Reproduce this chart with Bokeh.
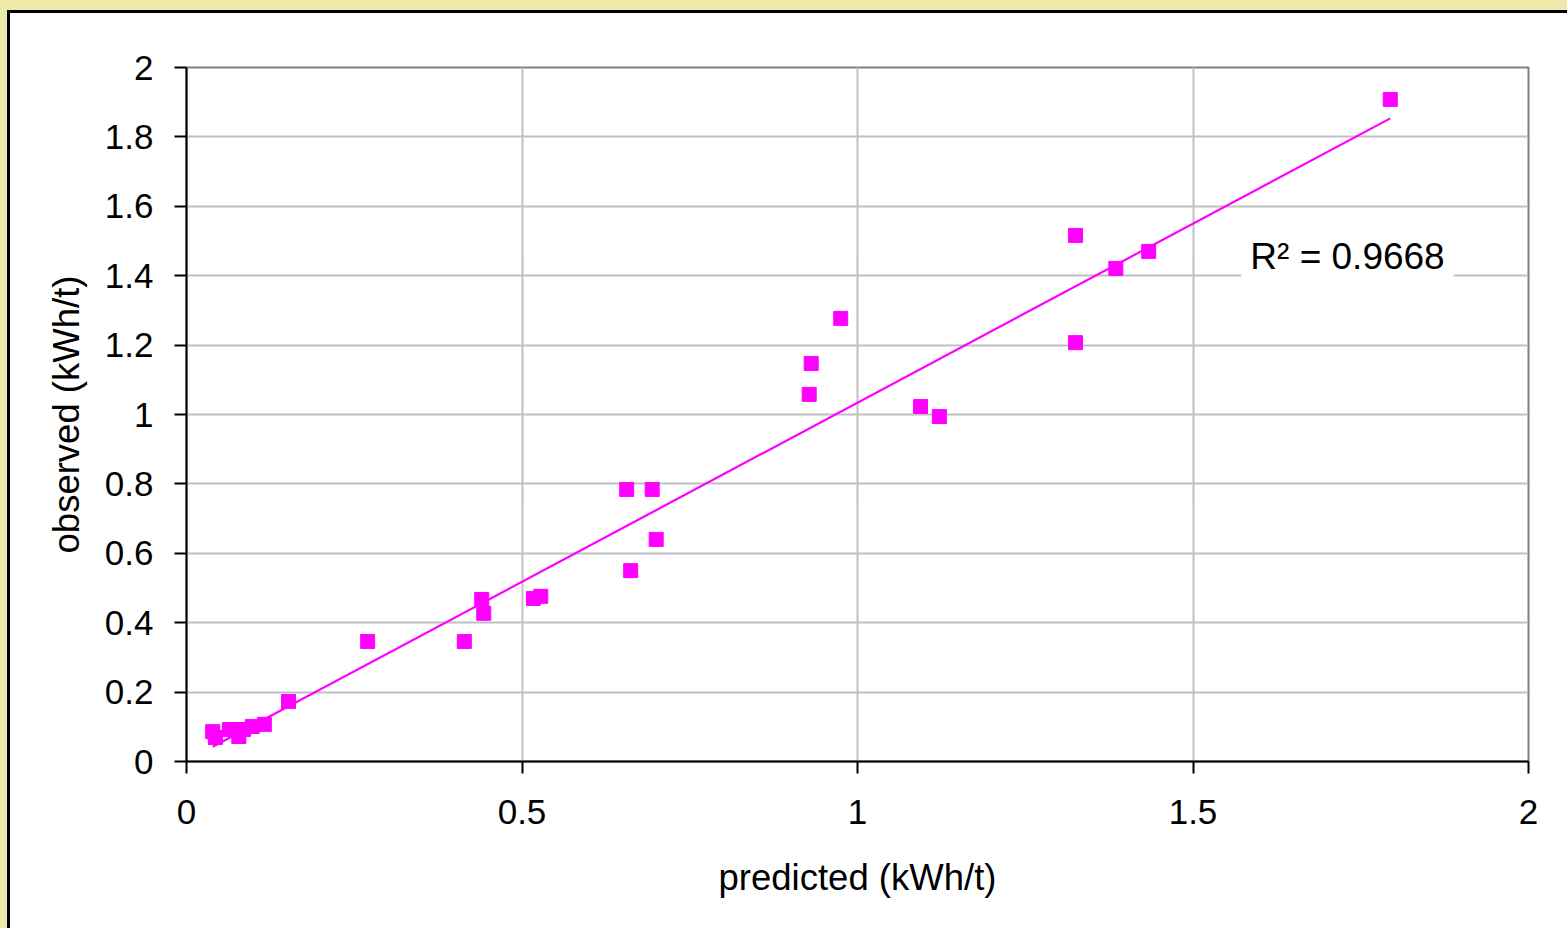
from bokeh.plotting import figure
from bokeh.models import Range1d, FixedTicker, Label, ColumnDataSource
from bokeh.embed import file_html
from bokeh.resources import INLINE

# ---- data ----
predicted = [0.039, 0.043, 0.064, 0.075, 0.078, 0.085, 0.098, 0.116, 0.152, 0.270,
             0.414, 0.440, 0.443, 0.517, 0.528, 0.656, 0.662, 0.694, 0.700, 0.928,
             0.931, 0.975, 1.094, 1.122, 1.325, 1.325, 1.385, 1.434, 1.794]
observed = [0.086, 0.069, 0.092, 0.092, 0.072, 0.092, 0.101, 0.107, 0.173, 0.346,
            0.346, 0.467, 0.427, 0.470, 0.476, 0.784, 0.550, 0.784, 0.640, 1.058,
            1.147, 1.277, 1.023, 0.994, 1.516, 1.207, 1.421, 1.470, 1.908]
# linear trend line as drawn in the reference
trend_slope = 1.032
trend_intercept = 0.002
x_ticks = [0, 0.5, 1, 1.5, 2]
x_tick_labels = ["0", "0.5", "1", "1.5", "2"]
y_ticks = [0, 0.2, 0.4, 0.6, 0.8, 1, 1.2, 1.4, 1.6, 1.8, 2]
y_tick_labels = ["0", "0.2", "0.4", "0.6", "0.8", "1", "1.2", "1.4", "1.6", "1.8", "2"]
r2_text = "R\u00b2 = 0.9668"
x_title = "predicted (kWh/t)"
y_title = "observed (kWh/t)"

FONT = "Liberation Sans"
MAGENTA = "#FF00FF"

p = figure(width=1566, height=927, output_backend="svg", toolbar_location=None,
           x_range=Range1d(0, 2), y_range=Range1d(0, 2),
           min_border_left=186, min_border_right=38, min_border_top=67, min_border_bottom=166)
p.border_fill_alpha = 0
p.background_fill_color = "white"
p.outline_line_color = "#808080"
p.outline_line_width = 2

# grid
p.xgrid.ticker = FixedTicker(ticks=x_ticks)
p.ygrid.ticker = FixedTicker(ticks=y_ticks)
for g in (p.xgrid, p.ygrid):
    g.grid_line_color = "#C0C0C0"
    g.grid_line_width = 2

# axes
p.xaxis.ticker = FixedTicker(ticks=x_ticks)
p.yaxis.ticker = FixedTicker(ticks=y_ticks)
p.xaxis.major_label_overrides = {float(t): l for t, l in zip(x_ticks, x_tick_labels)}
p.yaxis.major_label_overrides = {float(t): l for t, l in zip(y_ticks, y_tick_labels)}
p.xaxis.axis_label = x_title
p.yaxis.axis_label = y_title
for ax in (p.xaxis, p.yaxis):
    ax.axis_line_color = "black"
    ax.axis_line_width = 2
    ax.major_tick_line_color = "black"
    ax.major_tick_line_width = 2
    ax.major_tick_out = 12
    ax.major_tick_in = 0
    ax.minor_tick_line_color = None
    ax.major_label_text_font = FONT
    ax.major_label_text_font_size = "35px"
    ax.major_label_text_color = "black"
    ax.axis_label_text_font = FONT
    ax.axis_label_text_font_size = "36.5px"
    ax.axis_label_text_font_style = "normal"
    ax.axis_label_text_color = "black"
p.xaxis.major_label_standoff = 26
p.yaxis.major_label_standoff = 21
p.xaxis.axis_label_standoff = 30
p.yaxis.axis_label_standoff = 15

# trend line
xs = [min(predicted), max(predicted)]
ys = [trend_slope * v + trend_intercept for v in xs]
p.line(xs, ys, line_color=MAGENTA, line_width=2.2)

src = ColumnDataSource(dict(x=predicted, y=observed))
p.scatter("x", "y", source=src, marker="square", size=14,
          fill_color=MAGENTA, line_color=MAGENTA, line_width=1)

lab = Label(x=1.572, y=1.456, text=r2_text, text_font=FONT, text_font_size="37px",
            text_color="black", text_align="left", text_baseline="alphabetic",
            background_fill_color="white", padding=9)
p.add_layout(lab)

TEMPLATE = """{% block postamble %}<style>
html { background-color: #ffffff;
  background-image: linear-gradient(#000,#000), linear-gradient(#000,#000),
                    linear-gradient(#EEE8AA,#EEE8AA), linear-gradient(#EEE8AA,#EEE8AA);
  background-position: 7px 10px, 7px 10px, 0 0, 0 0;
  background-size: 3px 3000px, 3000px 3px, 3000px 10px, 7px 3000px;
  background-repeat: no-repeat; }
body { background: transparent; }
</style>{% endblock %}"""

open("out.html", "w").write(file_html(p, INLINE, template=TEMPLATE))
